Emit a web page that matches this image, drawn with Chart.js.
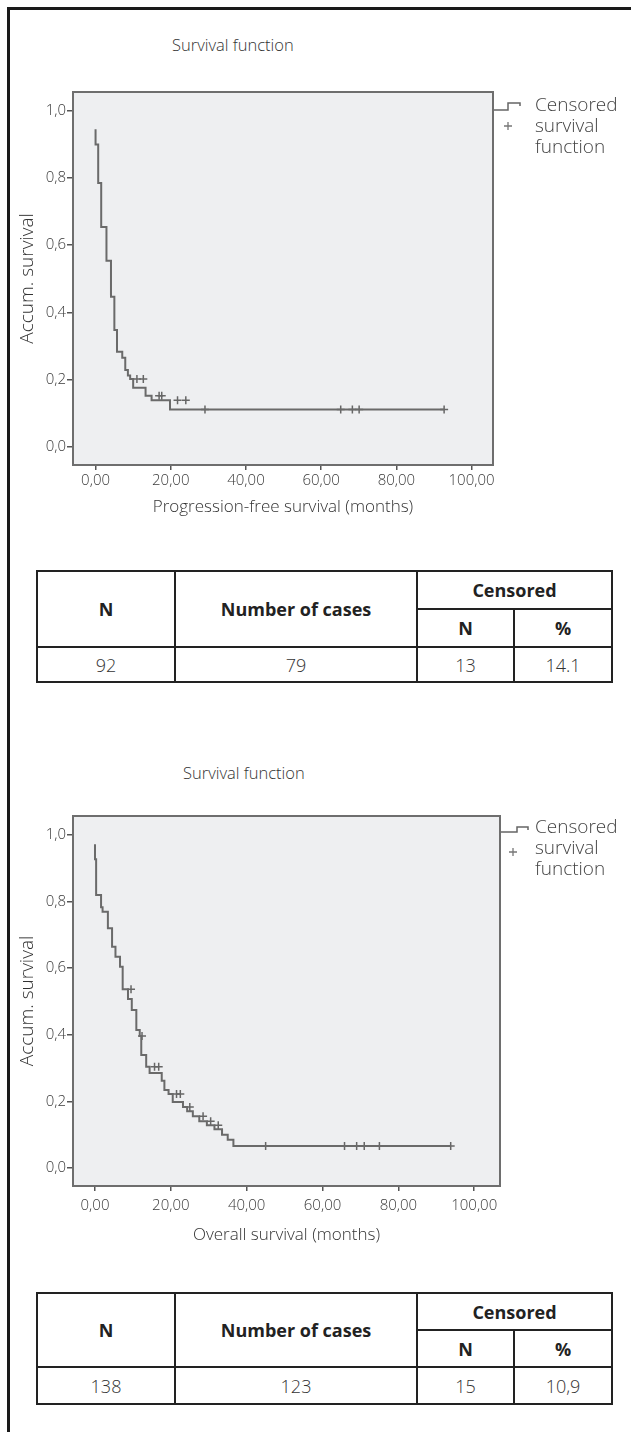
<!DOCTYPE html>
<html><head><meta charset="utf-8">
<script src="https://cdn.jsdelivr.net/npm/chart.js@4"></script>
<style>
body{margin:0;background:#fff;width:631px;height:1432px;position:relative;overflow:hidden;font-family:"Open Sans",sans-serif;color:#333}
.frame{position:absolute;left:7px;top:7px;width:640px;height:1440px;border-left:3px solid #1a1a1a;border-top:3px solid #1a1a1a}
.ctitle{position:absolute;font-size:16.5px;font-weight:300;color:#333;white-space:nowrap;line-height:20px}
.legend{position:absolute;font-size:19px;line-height:21px;color:#444;font-weight:300}
.legend svg{position:absolute}
canvas{position:absolute;left:0}
table{position:absolute;left:36px;width:575px;border-collapse:collapse;table-layout:fixed}
td,th{border:2px solid #222;text-align:center;padding:0;font-size:18px;line-height:22px}
th{font-weight:700;color:#222}
td{font-weight:300;color:#333}
th.sub{border-left-color:#888}
</style></head>
<body>
<div class="frame"></div>

<div class="ctitle" style="left:172px;top:35px">Survival function</div>
<canvas id="c1" width="631" height="530" style="top:0"></canvas>
<div class="legend" style="left:494px;top:92px">
  <svg width="40" height="50" style="left:0;top:0"><path d="M0 18 H14 V11 H26 V14" fill="none" stroke="#666" stroke-width="1.5"/><path d="M14 30 V38 M10 34 H18" stroke="#777" stroke-width="1.3"/></svg>
  <div style="position:absolute;left:41px;top:2px;white-space:nowrap">Censored<br>survival<br>function</div>
</div>

<table id="t1" style="top:570px;height:111px">
<colgroup><col style="width:138px"><col style="width:242px"><col style="width:97px"><col style="width:98px"></colgroup>
<tr style="height:38px"><th rowspan="2">N</th><th rowspan="2">Number of cases</th><th colspan="2">Censored</th></tr>
<tr style="height:38px"><th>N</th><th class="sub">%</th></tr>
<tr style="height:35px"><td>92</td><td>79</td><td>13</td><td>14.1</td></tr>
</table>

<div class="ctitle" style="left:183px;top:763px">Survival function</div>
<canvas id="c2" width="631" height="540" style="top:724px"></canvas>
<div class="legend" style="left:501px;top:814px">
  <svg width="40" height="50" style="left:0;top:0"><path d="M0 18 H16 V13 H27 V16" fill="none" stroke="#666" stroke-width="1.5"/><path d="M12 34 V42 M8 38 H16" stroke="#777" stroke-width="1.3"/></svg>
  <div style="position:absolute;left:34px;top:2px;white-space:nowrap">Censored<br>survival<br>function</div>
</div>

<table id="t2" style="top:1292px;height:111px">
<colgroup><col style="width:138px"><col style="width:242px"><col style="width:97px"><col style="width:98px"></colgroup>
<tr style="height:37px"><th rowspan="2">N</th><th rowspan="2">Number of cases</th><th colspan="2">Censored</th></tr>
<tr style="height:37px"><th>N</th><th class="sub">%</th></tr>
<tr style="height:37px"><td>138</td><td>123</td><td>15</td><td>10,9</td></tr>
</table>

<script>
// ---- Data ----
const yTickValues = [0, 0.2, 0.4, 0.6, 0.8, 1.0];
const yTickLabels = ['0,0', '0,2', '0,4', '0,6', '0,8', '1,0'];
const xTickValues = [0, 20, 40, 60, 80, 100];
const xTickLabels = ['0,00', '20,00', '40,00', '60,00', '80,00', '100,00'];

// Progression-free survival (months)
const pfsTimes = [0, 0.7, 1.5, 2.9, 4.1, 5.0, 5.7, 7.1, 7.9, 8.6, 9.2, 10.0, 13.3, 14.9, 19.8, 25.1, 92.7];
const pfsSurvival = [0.945, 0.900, 0.785, 0.654, 0.554, 0.447, 0.348, 0.283, 0.265, 0.229, 0.212, 0.202, 0.176, 0.152, 0.139, 0.111, 0.111];
const pfsCensored = [11.0, 12.7, 16.9, 17.6, 21.8, 24.0, 29.1, 65.2, 68.3, 70.1, 92.7];

// Overall survival (months)
const osTimes = [0, 0.3, 1.6, 2.0, 3.4, 4.5, 5.4, 6.6, 7.3, 8.7, 9.7, 10.9, 11.8, 12.2, 13.5, 14.4, 17.6, 18.3, 19.4, 20.5, 23.2, 24.3, 25.8, 27.5, 29.5, 31.5, 33.5, 35.0, 36.5, 38.0, 93.8];
const osSurvival = [0.971, 0.926, 0.819, 0.782, 0.769, 0.719, 0.664, 0.634, 0.604, 0.536, 0.507, 0.474, 0.414, 0.396, 0.339, 0.304, 0.285, 0.262, 0.234, 0.222, 0.198, 0.183, 0.170, 0.155, 0.140, 0.128, 0.116, 0.100, 0.085, 0.066, 0.066];
const osCensored = [9.5, 12.4, 15.7, 16.8, 21.5, 22.5, 25.0, 28.5, 30.5, 32.5, 45.0, 65.8, 69.0, 71.0, 75.0, 93.8];

// ---- helpers ----
function survAt(times, surv, t) {
  let v = surv[0];
  for (let i = 0; i < times.length; i++) { if (times[i] <= t) v = surv[i]; }
  return v;
}

const plotFrame = {
  id: 'plotFrame',
  beforeDraw(chart) {
    const {ctx, chartArea: {left, top, right, bottom}} = chart;
    ctx.save();
    ctx.fillStyle = '#eeeff1';
    ctx.fillRect(left, top, right - left, bottom - top);
    ctx.restore();
  },
  beforeDatasetsDraw(chart) {
    const {ctx, chartArea: {left, top, right, bottom}} = chart;
    ctx.save();
    ctx.strokeStyle = '#6e6e6e';
    ctx.lineWidth = 2;
    ctx.strokeRect(left, top, right - left, bottom - top);
    ctx.restore();
  }
};

function makeChart(id, times, surv, censored, o) {
  const curve = times.map((t, i) => ({x: t, y: surv[i]}));
  const marks = censored.map(t => ({x: t, y: survAt(times, surv, t)}));
  return new Chart(document.getElementById(id), {
    type: 'line',
    data: {
      datasets: [
        {data: curve, stepped: 'after', borderColor: '#6a6a6a', borderWidth: 2, pointRadius: 0, fill: false},
        {type: 'scatter', data: marks, showLine: false, pointStyle: 'cross', pointRadius: 4, borderColor: '#666', borderWidth: 1.5, backgroundColor: '#666'}
      ]
    },
    options: {
      responsive: false, animation: false, devicePixelRatio: 1,
      layout: {padding: {left: 0, top: o.top, right: o.right, bottom: 0}},
      plugins: {legend: {display: false}, tooltip: {enabled: false}, title: {display: false}},
      scales: {
        x: {
          type: 'linear', min: o.xmin, max: o.xmax,
          afterBuildTicks: s => { s.ticks = xTickValues.map(v => ({value: v})); },
          afterFit: s => { s.height = o.xh; },
          ticks: {callback: (v) => xTickLabels[xTickValues.indexOf(v)], color: '#3a3a3a', font: {family: 'Open Sans', size: 15, weight: 300}, padding: o.xpad, maxRotation: 0, autoSkip: false},
          grid: {drawOnChartArea: false, drawTicks: true, tickLength: 5, color: '#555', lineWidth: 1.5},
          border: {display: false},
          title: {display: true, text: o.xtitle, color: '#333', font: {family: 'Open Sans', size: 17, weight: 300}, padding: {top: 0, bottom: o.xtpad}}
        },
        y: {
          type: 'linear', min: -0.054, max: 1.056,
          afterBuildTicks: s => { s.ticks = yTickValues.map(v => ({value: v})); },
          afterFit: s => { s.width = 73; },
          ticks: {callback: (v) => yTickLabels[yTickValues.indexOf(v)], color: '#3a3a3a', font: {family: 'Open Sans', size: 15, weight: 300}, padding: 1},
          grid: {drawOnChartArea: false, drawTicks: true, tickLength: 6, color: '#555', lineWidth: 1.5},
          border: {display: false},
          title: {display: true, text: 'Accum. survival', color: '#333', font: {family: 'Open Sans', size: 19, weight: 300}, padding: {top: 16, bottom: 0}}
        }
      }
    },
    plugins: [plotFrame]
  });
}

makeChart('c1', pfsTimes, pfsSurvival, pfsCensored, {top: 92, right: 138, xmin: -6.0, xmax: 105.7, xh: 65, xpad: 2, xtpad: 13, xtitle: 'Progression-free survival (months)'});
makeChart('c2', osTimes, osSurvival, osCensored, {top: 92, right: 131, xmin: -5.8, xmax: 106.8, xh: 78, xpad: 6, xtpad: 19, xtitle: 'Overall survival (months)'});
</script>
</body></html>
